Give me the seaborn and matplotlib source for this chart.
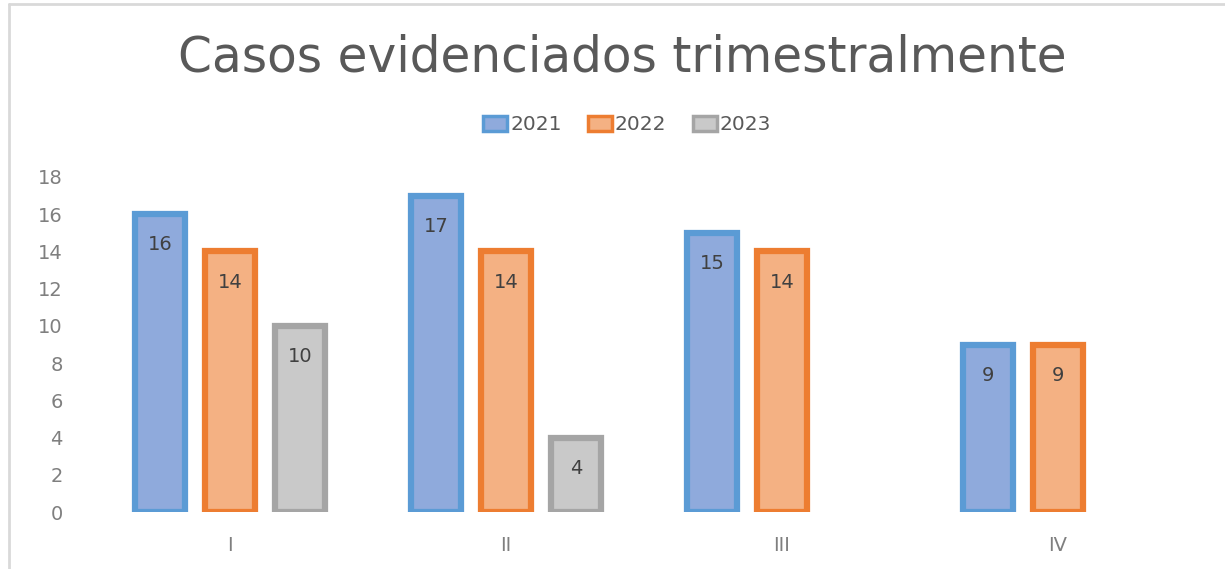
import matplotlib
matplotlib.use("Agg")
import matplotlib.pyplot as plt
import matplotlib.lines as mlines
import matplotlib.patches as mpatches
import pandas as pd
import seaborn as sns

# data
trimestres = ["I", "II", "III", "IV"]
casos_2021 = [16, 17, 15, 9]
casos_2022 = [14, 14, 14, 9]
casos_2023 = [10, 4, None, None]
anios = ["2021", "2022", "2023"]

fills = {"2021": "#8FAADC", "2022": "#F4B183", "2023": "#C9C9C9"}
edges = {"2021": "#5B9BD5", "2022": "#ED7D31", "2023": "#A5A5A5"}

rows = []
for anio, vals in zip(anios, [casos_2021, casos_2022, casos_2023]):
    for t, v in zip(trimestres, vals):
        if v is not None:
            rows.append({"trimestre": t, "anio": anio, "casos": v})
df = pd.DataFrame(rows)

sns.set_style("white")
plt.rcParams["font.family"] = ["DejaVu Sans"]

fig = plt.figure(figsize=(12.25, 5.69), dpi=100)
ax = fig.add_axes([92 / 1225, 1 - 512 / 569, (1196 - 92) / 1225, (512 - 177) / 569])

sns.barplot(data=df, x="trimestre", y="casos", hue="anio", order=trimestres,
            hue_order=anios, palette=fills, width=0.76, gap=0.28,
            linewidth=4.5, ax=ax, legend=False)

# outline colours per series + value labels inside the top
for cont, anio in zip(ax.containers, anios):
    for bar in cont:
        bar.set_edgecolor(edges[anio])
        bar.set_facecolor(fills[anio])
    ax.bar_label(cont, labels=[f"{int(b.get_height())}" for b in cont],
                 label_type="edge", padding=-29, fontsize=14, color="#404040")

ax.set_ylim(0, 18)
ax.set_xlim(-0.5, 3.5)
ax.set_yticks(range(0, 19, 2))
ax.set_xlabel("")
ax.set_ylabel("")
for s in ax.spines.values():
    s.set_visible(False)
ax.tick_params(axis="y", labelsize=14, labelcolor="#7F7F7F", length=0, pad=21)
ax.tick_params(axis="x", labelsize=14, labelcolor="#7F7F7F", length=0, pad=17)

fig.text(622 / 1225, 1 - 57 / 569, "Casos evidenciados trimestralmente",
         ha="center", va="center", fontsize=35, color="#595959")

handles = [mpatches.Patch(facecolor=fills[a], edgecolor=edges[a], linewidth=2.5, label=a)
           for a in anios]
fig.legend(handles=handles, loc="center", bbox_to_anchor=(627 / 1225, 1 - 125 / 569),
           ncol=3, frameon=False, fontsize=14.5, labelcolor="#595959",
           handlelength=1.2, handleheight=0.8, handletextpad=0.15, columnspacing=1.3)

# chart frame (top and left edges visible)
fig.add_artist(mlines.Line2D([9 / 1225, 1], [1 - 4 / 569, 1 - 4 / 569],
                             color="#D9D9D9", linewidth=2))
fig.add_artist(mlines.Line2D([9 / 1225, 9 / 1225], [0, 1 - 4 / 569],
                             color="#D9D9D9", linewidth=2))

fig.savefig("out.png", dpi=100)
